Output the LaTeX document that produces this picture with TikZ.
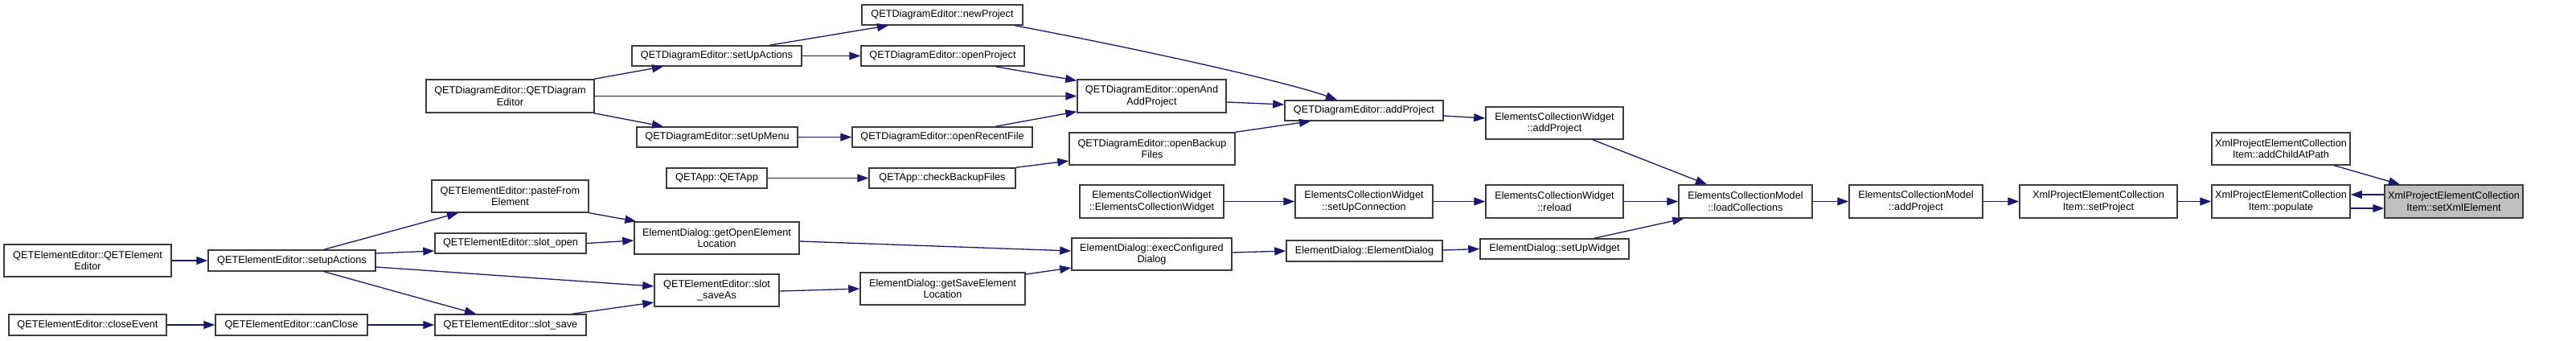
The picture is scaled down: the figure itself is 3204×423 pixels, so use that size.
\documentclass[tikz,border=0pt]{standalone}
\usepackage{fontspec}
\setmainfont{Liberation Sans}
\usetikzlibrary{arrows.meta}
\definecolor{edgec}{RGB}{25,25,112}
\definecolor{hl}{RGB}{191,191,191}
\definecolor{bord}{RGB}{60,60,60}
\tikzset{
  box/.style={draw=bord, line width=1.5pt, fill=white, inner sep=0pt, align=center,
    font=\fontsize{12.7}{14.5}\selectfont, text=black},
  edge/.style={draw=edgec, line width=1.3pt, -{Triangle[length=14pt,width=10pt]}},
}
\newcommand\bx[7][]{\node[box,#1,minimum width={(#5-#3)*1pt},minimum height={(#6-#4)*1pt}] (#2) at ({(#3+#5)/2*1pt},{-(#4+#6)/2*1pt}) {#7};}
\begin{document}
\begin{tikzpicture}
\useasboundingbox (0,0) rectangle (3204pt,-423pt);
\fill[white] (0,0) rectangle (3204pt,-423pt);
% nodes
\bx{A}{5}{304}{213}{344}{QETElementEditor::QETElement\\Editor}
\bx{B}{259}{311}{467}{337}{QETElementEditor::setupActions}
\bx{C}{11}{391}{207}{417}{QETElementEditor::closeEvent}
\bx{D}{268}{391}{457}{417}{QETElementEditor::canClose}
\bx{E}{530}{99}{739}{140}{QETDiagramEditor::QETDiagram\\Editor}
\bx{F}{786}{57}{997}{82}{QETDiagramEditor::setUpActions}
\bx{G}{792}{158}{992}{183}{QETDiagramEditor::setUpMenu}
\bx{H}{829}{209}{954}{234}{QETApp::QETApp}
\bx{I}{537}{224}{732}{264}{QETElementEditor::pasteFrom\\Element}
\bx{J}{541}{290}{729}{315}{QETElementEditor::slot\_open}
\bx{K}{541}{391}{729}{417}{QETElementEditor::slot\_save}
\bx{L}{789}{276}{994}{316}{ElementDialog::getOpenElement\\Location}
\bx{M}{814}{341}{969}{381}{QETElementEditor::slot\\\_saveAs}
\bx{N}{1072}{6}{1272}{31}{QETDiagramEditor::newProject}
\bx{O}{1071}{57}{1274}{82}{QETDiagramEditor::openProject}
\bx{P}{1340}{99}{1525}{140}{QETDiagramEditor::openAnd\\AddProject}
\bx{Q}{1060}{158}{1284}{183}{QETDiagramEditor::openRecentFile}
\bx{R}{1330}{165}{1536}{205}{QETDiagramEditor::openBackup\\Files}
\bx{S}{1081}{209}{1263}{234}{QETApp::checkBackupFiles}
\bx{T}{1343}{230}{1522}{271}{ElementsCollectionWidget\\::ElementsCollectionWidget}
\bx{U}{1333}{296}{1532}{336}{ElementDialog::execConfigured\\Dialog}
\bx{V}{1070}{339}{1275}{379}{ElementDialog::getSaveElement\\Location}
\bx{W}{1598}{125}{1795}{150}{QETDiagramEditor::addProject}
\bx{X}{1848}{133}{2019}{173}{ElementsCollectionWidget\\::addProject}
\bx{Y}{1611}{230}{1782}{271}{ElementsCollectionWidget\\::setUpConnection}
\bx{Z}{1848}{230}{2019}{271}{ElementsCollectionWidget\\::reload}
\bx{AA}{1600}{299}{1794}{325}{ElementDialog::ElementDialog}
\bx{AB}{1841}{297}{2026}{322}{ElementDialog::setUpWidget}
\bx{AC}{2088}{230}{2254}{271}{ElementsCollectionModel\\::loadCollections}
\bx{AD}{2300}{230}{2466}{271}{ElementsCollectionModel\\::addProject}
\bx{AE}{2512}{230}{2708}{271}{XmlProjectElementCollection\\Item::setProject}
\bx{AF}{2751}{165}{2923}{205}{XmlProjectElementCollection\\Item::addChildAtPath}
\bx{AG}{2751}{230}{2923}{271}{XmlProjectElementCollection\\Item::populate}
\bx[fill=hl]{AH}{2966}{230}{3138}{271}{XmlProjectElementCollection\\Item::setXmlElement}
% edges
\draw[edge] (A.east) -- (B.west);
\draw[edge] (C.east) -- (D.west);
\draw[edge] (D.east) -- (K.west);
\draw[edge] ([xshift=40pt]B.north) -- ([xshift=-64.5pt]I.south);
\draw[edge] ([yshift=9pt]B.east) -- ([yshift=-9.5pt]J.west);
\draw[edge] ([yshift=-8pt]B.east) -- ([yshift=5pt]M.west);
\draw[edge] ([xshift=40pt]B.south) -- ([xshift=-43pt]K.north);
\draw[edge] (I.south east) -- ([xshift=3pt]L.north west);
\draw[edge] (J.east) -- ([yshift=-3pt]L.west);
\draw[edge] ([xshift=77pt]K.north) -- ([yshift=-15pt]M.west);
\draw[edge] ([yshift=-1pt]M.east) -- (V.west);
\draw[edge] ([yshift=-4pt]L.east) -- ([yshift=4pt]U.west);
\draw[edge] ([yshift=18pt]V.east) -- ([yshift=-17pt]U.west);
\draw[edge] ([yshift=2pt]U.east) -- (AA.west);
\draw[edge] ([yshift=1pt]AA.east) -- (AB.west);
\draw[edge] ([xshift=49.5pt]AB.north) -- ([xshift=7pt]AC.south west);
\draw[edge] ([xshift=-1pt]E.north east) -- ([xshift=-66.5pt]F.south);
\draw[edge] (E.east) -- (P.west);
\draw[edge] ([xshift=-1pt]E.south east) -- ([xshift=-67pt]G.north);
\draw[edge] ([xshift=65.5pt]F.north) -- ([xshift=-67pt]N.south);
\draw[edge] (F.east) -- (O.west);
\draw[edge] (G.east) -- (Q.west);
\draw[edge] ([xshift=65.5pt]O.south) -- ([yshift=-2pt]P.north west);
\draw[edge] ([xshift=66pt]Q.north) -- ([yshift=2pt]P.south west);
\draw[edge] (H.east) -- (S.west);
\draw[edge] (S.north east) -- ([yshift=-15pt]R.west);
\draw[edge] ([xshift=90pt]N.south) .. controls +(150pt,-28pt) and +(-60pt,22pt) .. ([xshift=-33.5pt]W.north);
\draw[edge] ([yshift=-7.5pt]P.east) -- ([yshift=7.5pt]W.west);
\draw[edge] (R.north east) -- ([xshift=-66.5pt]W.south);
\draw[edge] ([yshift=-6.5pt]W.east) -- ([yshift=6pt]X.west);
\draw[edge] ([xshift=47.5pt]X.south) -- ([xshift=-48pt]AC.north);
\draw[edge] (T.east) -- (Y.west);
\draw[edge] (Y.east) -- (Z.west);
\draw[edge] (Z.east) -- (AC.west);
\draw[edge] (AC.east) -- (AD.west);
\draw[edge] (AD.east) -- (AE.west);
\draw[edge] (AE.east) -- (AG.west);
\draw[edge] ([yshift=-8.5pt]AG.east) -- ([yshift=-8.5pt]AH.west);
\draw[edge] ([yshift=8.5pt]AH.west) -- ([yshift=8.5pt]AG.east);
\draw[edge] ([xshift=66pt]AF.south) -- ([xshift=-67pt]AH.north);
\end{tikzpicture}
\end{document}
